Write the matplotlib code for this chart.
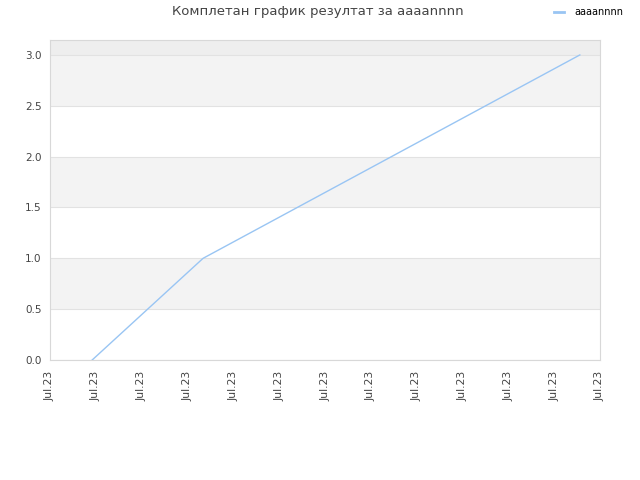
import matplotlib.pyplot as plt

title = "Комплетан график резултат за aaaannnn"
series_name = "aaaannnn"
tick_labels = ["Jul.23"] * 13
x_values = [0.92, 3.34, 11.56]
y_values = [0.0, 1.0, 3.0]
y_ticks = [0.0, 0.5, 1.0, 1.5, 2.0, 2.5, 3.0]

fig = plt.figure(figsize=(6.4, 4.8), dpi=100)
ax = fig.add_axes([50 / 640, 120 / 480, 550 / 640, 320 / 480])

ymax = 3.147
# alternating bands
for i in range(len(y_ticks) - 1):
    if i % 2 == 1:
        ax.axhspan(y_ticks[i], y_ticks[i + 1], color="#f3f3f3", zorder=0, lw=0)
ax.axhspan(y_ticks[-1], ymax, color="#eeeeee", zorder=0, lw=0)
for y in y_ticks:
    ax.axhline(y, color="#e2e2e2", lw=0.8, zorder=1)

ax.plot(x_values, y_values, color="#99c5f3", lw=1, label=series_name, zorder=3)

ax.set_xlim(0, len(tick_labels) - 1)
ax.set_ylim(0, ymax)
ax.set_xticks(range(len(tick_labels)))
ax.set_xticklabels(tick_labels, rotation=90, fontsize=7.8, color="#444444")
ax.set_yticks(y_ticks)
ax.set_yticklabels([f"{v:.1f}" for v in y_ticks], fontsize=7.5, color="#444444")
ax.tick_params(axis="y", length=0, pad=6)
ax.tick_params(axis="x", length=0, pad=8)
for s in ax.spines.values():
    s.set_color("#d8d8d8")
    s.set_linewidth(0.8)

fig.text(318 / 640, 1 - 12 / 480, title, ha="center", va="center",
         fontsize=9.5, color="#444444")
leg = fig.legend(loc="center right", bbox_to_anchor=(623 / 640, 1 - 12 / 480),
                 frameon=False, fontsize=7, handlelength=1.1, handletextpad=1.0,
                 borderpad=0, borderaxespad=0)
for h in leg.get_lines():
    h.set_linewidth(2)

fig.savefig("out.png", dpi=100)
